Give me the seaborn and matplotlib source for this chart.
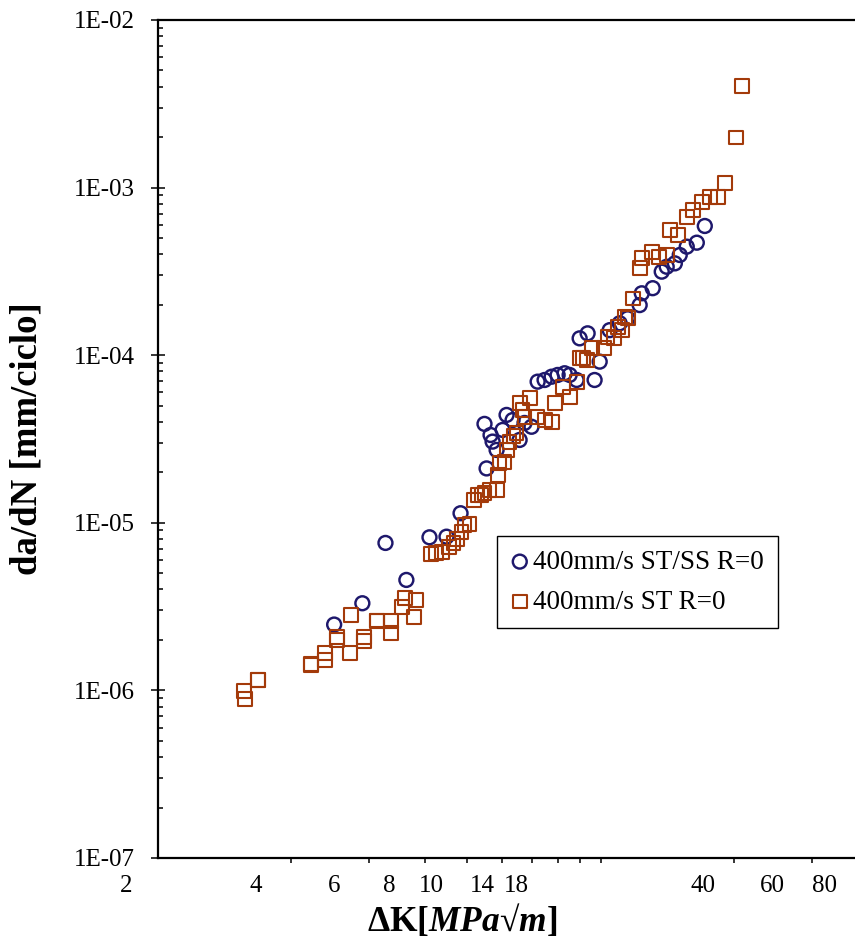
import matplotlib
matplotlib.use("Agg")
import matplotlib.pyplot as plt
import seaborn as sns
import pandas as pd
from matplotlib.ticker import FixedLocator, FixedFormatter, NullFormatter, LogLocator

# ---------------- data ----------------
stss_label = "400mm/s ST/SS R=0"
stss_dk = [5.00, 5.79, 6.53, 7.28, 8.21, 8.97, 9.65, 11.05, 10.93, 11.28, 11.40, 11.64,
           12.01, 12.26, 12.65, 13.12, 13.96, 13.46, 14.41, 14.94, 15.50, 15.99, 16.58,
           17.02, 17.65, 17.93, 18.69, 19.90, 19.38, 20.96, 22.08, 23.02, 24.50, 24.77,
           26.22, 27.48, 28.20, 29.42, 30.18, 31.30, 32.98, 34.38]
stss_dadn = [2.47e-6, 3.31e-6, 7.58e-6, 4.56e-6, 8.19e-6, 8.26e-6, 1.14e-5, 2.11e-5,
             3.89e-5, 3.34e-5, 3.05e-5, 2.72e-5, 3.58e-5, 4.40e-5, 4.10e-5, 3.12e-5,
             3.74e-5, 3.94e-5, 6.95e-5, 7.11e-5, 7.44e-5, 7.62e-5, 7.80e-5, 7.62e-5,
             7.11e-5, 1.26e-4, 1.35e-4, 9.15e-5, 7.11e-5, 1.41e-4, 1.55e-4, 1.66e-4,
             1.99e-4, 2.34e-4, 2.51e-4, 3.15e-4, 3.37e-4, 3.53e-4, 3.96e-4, 4.44e-4,
             4.69e-4, 5.90e-4]

st_label = "400mm/s ST R=0"
st_dk = [3.13, 3.15, 3.37, 3.37, 4.44, 4.44, 4.77, 4.77, 5.08, 5.08,
         5.47, 5.44, 5.85, 5.85, 6.26, 6.26, 6.73, 6.73, 7.13, 7.24,
         7.67, 7.59, 8.29, 8.51, 8.78, 9.10, 9.30, 9.49, 9.70, 9.85,
         10.11, 10.37, 10.54, 10.76, 10.93, 11.22, 11.64, 11.70, 11.82, 12.13,
         12.26, 12.45, 12.71, 12.91, 13.12, 13.46, 13.82, 13.32, 14.33, 14.94,
         15.50, 15.74, 16.41, 17.02, 17.65, 17.93, 18.21, 18.59, 19.08, 20.31,
         20.73, 21.40, 21.85, 22.31, 22.66, 23.02, 23.62, 24.50, 24.77, 26.08,
         27.06, 28.20, 28.64, 29.88, 31.30, 32.30, 33.84, 35.30, 36.80, 38.16,
         40.40, 41.69]
st_dadn = [9.96e-7, 8.89e-7, 1.15e-6, 1.16e-6, 1.42e-6, 1.43e-6, 1.67e-6, 1.52e-6, 2.09e-6, 2.00e-6,
           2.82e-6, 1.68e-6, 2.09e-6, 1.98e-6, 2.61e-6, 2.59e-6, 2.59e-6, 2.19e-6, 3.16e-6, 3.56e-6,
           3.46e-6, 2.75e-6, 6.51e-6, 6.61e-6, 6.72e-6, 7.20e-6, 7.58e-6, 8.00e-6, 8.85e-6, 9.70e-6,
           9.84e-6, 1.37e-5, 1.47e-5, 1.46e-5, 1.50e-5, 1.57e-5, 1.57e-5, 1.93e-5, 2.26e-5, 2.31e-5,
           2.72e-5, 3.05e-5, 3.29e-5, 3.42e-5, 5.16e-5, 4.30e-5, 5.53e-5, 4.71e-5, 4.30e-5, 4.10e-5,
           4.01e-5, 5.16e-5, 6.49e-5, 5.65e-5, 6.95e-5, 9.58e-5, 9.58e-5, 9.36e-5, 1.10e-4, 1.10e-4,
           1.29e-4, 1.26e-4, 1.48e-4, 1.41e-4, 1.69e-4, 1.66e-4, 2.18e-4, 3.30e-4, 3.79e-4, 4.14e-4,
           3.87e-4, 3.96e-4, 5.58e-4, 5.21e-4, 6.71e-4, 7.35e-4, 8.24e-4, 8.83e-4, 8.80e-4, 1.07e-3,
           1.99e-3, 4.04e-3]

# axis ticks / labels
x_tick_marks = [4, 6, 8, 10, 12, 14, 16, 18, 20, 40, 60]
x_label_text = ["4", "6", "8", "10", "14", "18", "40", "60", "80"]
x_label_pos = [3.33, 5.0, 6.66, 8.3, 10.8, 12.9, 34.0, 48.8, 64.0]
x_first_label = "2"
x_first_label_pos = 1.69
y_ticks = [1e-7, 1e-6, 1e-5, 1e-4, 1e-3, 1e-2]
y_tick_labels = ["1E-07", "1E-06", "1E-05", "1E-04", "1E-03", "1E-02"]

# ---------------- style ----------------
sns.set_theme(style="ticks")
plt.rcParams["font.family"] = ["Liberation Serif", "DejaVu Serif"]
plt.rcParams["text.color"] = "black"
plt.rcParams["axes.labelcolor"] = "black"
plt.rcParams["mathtext.fontset"] = "custom"
plt.rcParams["mathtext.rm"] = "Liberation Serif:bold"
plt.rcParams["mathtext.bf"] = "Liberation Serif:bold"
plt.rcParams["mathtext.it"] = "Liberation Serif:italic:bold"

navy = "#1e186c"
brown = "#a33a0a"

fig = plt.figure(figsize=(8.55, 9.42), dpi=100)
ax = fig.add_axes([0.1848, 0.0892, 0.8152, 0.8896])

df_stss = pd.DataFrame({"dK": stss_dk, "dadN": stss_dadn})
df_st = pd.DataFrame({"dK": st_dk, "dadN": st_dadn})

sns.scatterplot(data=df_stss, x="dK", y="dadN", marker="o", s=100, facecolor="none",
                edgecolor=navy, linewidth=1.75, label=stss_label, ax=ax, zorder=2)
sns.scatterplot(data=df_st, x="dK", y="dadN", marker="s", s=100, facecolor="none",
                edgecolor=brown, linewidth=1.5, label=st_label, ax=ax, zorder=3)

ax.set_xscale("log")
ax.set_yscale("log")
ax.set_xlim(2, 75.1)
ax.set_ylim(1e-7, 1e-2)

# x axis
label_pad = 12
ax.xaxis.set_major_locator(FixedLocator(x_label_pos))
ax.xaxis.set_major_formatter(FixedFormatter(x_label_text))
ax.xaxis.set_minor_locator(FixedLocator(x_tick_marks))
ax.xaxis.set_minor_formatter(NullFormatter())
ax.tick_params(axis="x", which="major", length=0, pad=label_pad, labelsize=18, colors="black")
ax.tick_params(axis="x", which="minor", direction="out", length=3.8, width=1.1, color="black")
ax.annotate(x_first_label, xy=(x_first_label_pos, 0), xycoords=("data", "axes fraction"),
            xytext=(0, -label_pad), textcoords="offset points", ha="center", va="top",
            fontsize=18, annotation_clip=False)

# y axis
ax.yaxis.set_major_locator(FixedLocator(y_ticks))
ax.yaxis.set_major_formatter(FixedFormatter(y_tick_labels))
ax.yaxis.set_minor_locator(LogLocator(base=10, subs=[2, 3, 4, 5, 6, 7, 8, 9], numticks=20))
ax.yaxis.set_minor_formatter(NullFormatter())
ax.tick_params(axis="y", which="major", direction="inout", length=10, width=1.1,
               pad=12, labelsize=18, colors="black")
ax.tick_params(axis="y", which="minor", direction="in", length=3.8, width=1.1, color="black")

for side in ["left", "bottom", "top"]:
    ax.spines[side].set_color("black")
    ax.spines[side].set_linewidth(1.6)
ax.spines["right"].set_visible(False)

ax.set_ylabel("da/dN [mm/ciclo]", fontsize=26.5, fontweight="bold", color="black")
ax.yaxis.set_label_coords(-0.163, 0.5)
ax.set_xlabel("$\\mathbf{\\Delta K[}\\mathit{MPa\u221am}\\mathbf{]}$", fontsize=25.5, color="black")
ax.xaxis.set_label_coords(0.436, -0.052)

leg = ax.legend(loc="upper left", bbox_to_anchor=(0.486, 0.384), frameon=True, fancybox=False,
                edgecolor="black", framealpha=1, fontsize=19.5, handlelength=0.7,
                handletextpad=0.15, borderpad=0.5, labelspacing=0.55, borderaxespad=0)
leg.get_frame().set_linewidth(1.0)
for t in leg.get_texts():
    t.set_color("black")

fig.savefig("out.png", dpi=100)
